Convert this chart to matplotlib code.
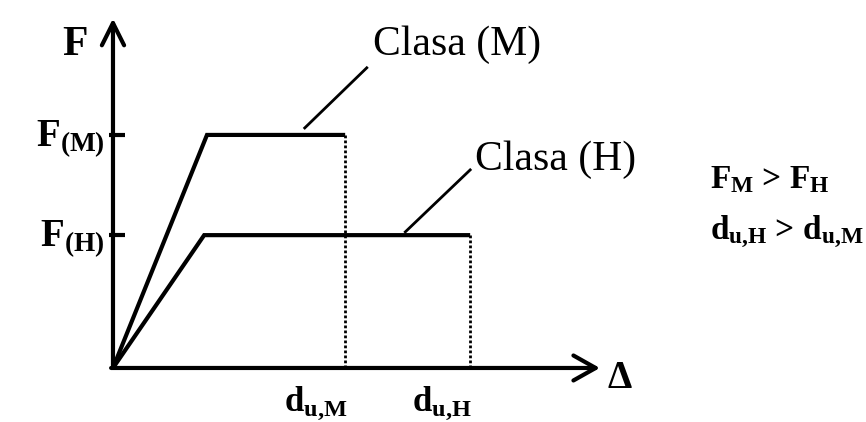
import matplotlib
matplotlib.use("Agg")
import matplotlib.pyplot as plt

plt.rcParams['font.family'] = ['Liberation Serif', 'DejaVu Serif']
plt.rcParams['mathtext.fontset'] = 'custom'
plt.rcParams['mathtext.rm'] = 'Liberation Serif'
plt.rcParams['mathtext.it'] = 'Liberation Serif'
plt.rcParams['mathtext.bf'] = 'Liberation Serif:bold'

# Schematic values (relative units)
classes = ["M", "H"]
F_y = [1.0, 0.57]          # plateau force levels F(M), F(H)
d_y = [1.0, 0.97]          # yield displacements
d_u = [2.47, 3.80]         # ultimate displacements d_u,M, d_u,H
class_labels = ["Clasa (M)", "Clasa (H)"]
ytick_labels = [r"F$_{\mathbf{(M)}}$", r"F$_{\mathbf{(H)}}$"]
xtick_labels = [r"d$_{\mathbf{u{,}M}}$", r"d$_{\mathbf{u{,}H}}$"]

fig = plt.figure(figsize=(8.66, 4.22), dpi=100)
ax = fig.add_axes([0, 0, 1, 1])
ax.set_xlim(-1.202, 8.011)
ax.set_ylim(-0.2318, 1.579)
ax.axis('off')

lw = 3.0
# axes with open arrowheads
ax.annotate('', xy=(0, 1.5), xytext=(0, 0),
            arrowprops=dict(arrowstyle='->,head_length=0.8,head_width=0.4',
                            lw=lw, color='black', mutation_scale=20,
                            shrinkA=0, shrinkB=0))
ax.annotate('', xy=(5.18, 0), xytext=(-0.02, 0),
            arrowprops=dict(arrowstyle='->,head_length=0.8,head_width=0.45',
                            lw=lw, color='black', mutation_scale=20,
                            shrinkA=0, shrinkB=0))

# curves
for Fy, dy, du in zip(F_y, d_y, d_u):
    ax.plot([0, dy, du], [0, Fy, Fy], color='black', lw=lw,
            solid_joinstyle='miter', solid_capstyle='butt')
    ax.plot([du, du], [Fy, 0], color='black', lw=2.0, ls=(0, (1, 0.8)))
    # tick on y axis
    ax.plot([-0.04, 0.13], [Fy, Fy], color='black', lw=lw, solid_capstyle='butt')

# y labels
ax.text(-0.404, 1.386, "F", fontsize=30, ha='center', va='center', fontweight='bold')
for Fy, lab in zip(F_y, ytick_labels):
    ax.text(-0.09, Fy - 0.02, lab, fontsize=28, ha='right', va='center', fontweight='bold')

# x labels
for du, lab in zip(d_u, xtick_labels):
    ax.text(du + 0.02, -0.15, lab, fontsize=25, ha='right', va='center', fontweight='bold')
ax.text(5.39, -0.043, r"$\mathbf{\Delta}$", fontsize=28, ha='center', va='center')

# class labels with leader lines
ax.plot([2.04, 2.70], [1.03, 1.288], color='black', lw=2.0)
ax.text(2.77, 1.386, class_labels[0], fontsize=30, ha='left', va='center')
ax.plot([3.11, 3.80], [0.584, 0.85], color='black', lw=2.0)
ax.text(3.85, 0.893, class_labels[1], fontsize=30, ha='left', va='center')

# relations
ax.text(6.35, 0.807, r"F$_{\mathbf{M}}$ > F$_{\mathbf{H}}$", fontsize=24, ha='left',
        va='center', fontweight='bold')
ax.text(6.35, 0.584, r"d$_{\mathbf{u{,}H}}$ > d$_{\mathbf{u{,}M}}$", fontsize=24, ha='left',
        va='center', fontweight='bold')

fig.savefig("out.png", dpi=100)
